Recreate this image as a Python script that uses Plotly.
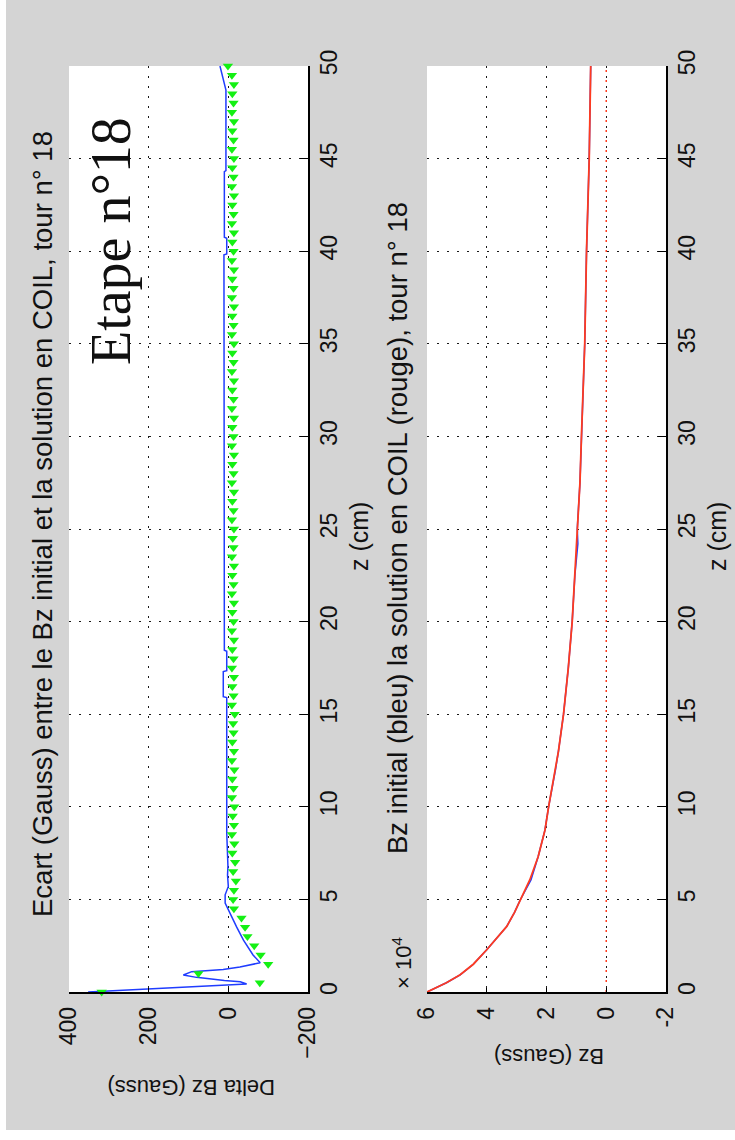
import plotly.graph_objects as go

W, H = 735, 1140

# ---------------- data ----------------
# Panel 1: Delta Bz (Gauss) vs z (cm)
delta_blue_z = [0, 0.25, 0.43, 0.55, 0.62, 0.79, 0.92, 1.1, 1.22, 1.35, 1.58, 2.0, 2.8, 3.5,
                4.25, 4.8, 5.25, 5.7, 6.3, 6.8, 8.6, 15.9, 15.95, 17.3, 17.35, 18.4, 18.45,
                21.6, 27, 39.8, 39.85, 40.7, 40.75, 44.3, 44.35, 48.7, 50]
delta_blue_v = [352, 105, -46, -30, 10, 80, 113, 92, 13, -29, -80, -62, -38, -21,
                -4, 8, 8, 0, 2, 1, 4, 4, 12.7, 12.7, 4, 4, 10,
                10, 11, 11, 4, 4, 10, 10, 6, 6, 21]

delta_green_z = [0, 0.5, 1, 1.5, 2, 2.5, 3, 3.5, 4, 4.5, 5, 5.5, 6, 6.5, 7, 7.5, 8, 8.5, 9, 9.5,
                 10, 10.5, 11, 11.5, 12, 12.5, 13, 13.5, 14, 14.5, 15, 15.5, 16, 16.5, 17, 17.5,
                 18, 18.5, 19, 19.5, 20, 20.5, 21, 21.5, 22, 22.5, 23, 23.5, 24, 24.5, 25, 25.5,
                 26, 26.5, 27, 27.5, 28, 28.5, 29, 29.5, 30, 30.5, 31, 31.5, 32, 32.5, 33, 33.5,
                 34, 34.5, 35, 35.5, 36, 36.5, 37, 37.5, 38, 38.5, 39, 39.5, 40, 40.5, 41, 41.5,
                 42, 42.5, 43, 43.5, 44, 44.5, 45, 45.5, 46, 46.5, 47, 47.5, 48, 48.5, 49, 49.5, 50]
delta_green_v = [318, -79, 75, -100, -81, -65, -48, -42, -33, -14, -12, -14, -19, -12, -17, -10, -15, -9, -14, -11,
                 -15, -9, -13, -10, -15, -9, -14, -10, -13, -12, -16, -9, -13, -10, -14, -9,
                 -13, -10, -14, -9, -13, -10, -14, -9, -13, -10, -14, -9, -13, -11, -14, -9,
                 -13, -10, -14, -9, -13, -10, -14, -9, -13, -10, -14, -9, -13, -10, -14, -9,
                 -13, -10, -14, -9, -13, -10, -14, -9, -13, -10, -14, -9, -13, -10, -14, -9,
                 -13, -10, -14, -9, -13, -10, -14, -9, -13, -10, -14, -9, -13, -10, -14, -9, 1]

# Panel 2: Bz (Gauss) vs z (cm)
bz_red_z = [0, 0.5, 0.93, 1.5, 2.28, 3.0, 3.54, 4.3, 4.97, 6.05, 7.3, 8.75, 10, 12, 13, 15,
            17.5, 20, 22.5, 25, 27.5, 30, 35, 40, 45, 50]
bz_red_v = [60000, 53500, 48900, 44500, 40000, 36000, 33300, 30700, 28800, 25600, 22800, 20500,
            19300, 17000, 16000, 14300, 12700, 11400, 10500, 9700, 8800, 8300, 7200, 6600, 5700, 5200]
bz_blue_z = [0, 0.5, 0.93, 1.5, 2.28, 3.0, 3.54, 4.3, 4.97, 6.05, 7.3, 8.75, 10, 12, 13, 15,
             17.5, 20, 22.5, 24.2, 25, 27.5, 30, 35, 40, 45, 50]
bz_blue_v = [60000, 53500, 48900, 44500, 40000, 36000, 33300, 30700, 28800, 25200, 22800, 20500,
             19300, 17000, 16000, 14300, 12700, 11400, 10500, 9500, 9700, 8800, 8300, 7200, 6600, 5700, 5200]
zero_z = [0, 50]
zero_v = [0, 0]

z_ticks = [0, 5, 10, 15, 20, 25, 30, 35, 40, 45, 50]
delta_ticks = [400, 200, 0, -200]
bz_ticks = [60000, 40000, 20000, 0, -20000]
bz_ticktext = ['6', '4', '2', '0', '-2']

# ---------------- layout helpers ----------------
def px(x):
    return x / W

def py(y):
    return 1 - y / H

FONT = "Liberation Sans, Arial, sans-serif"
GRID = dict(showgrid=True, gridcolor="#1a1a1a", gridwidth=1.3, griddash="2px,8px",
            zeroline=False, showline=True, linecolor="black", linewidth=1.5,
            ticks="inside", tickcolor="black", tickangle=-90, automargin=False,
            tickfont=dict(family=FONT, size=23, color="#111111"))

fig = go.Figure()

fig.add_trace(go.Scatter(x=delta_blue_v, y=delta_blue_z, mode="lines",
                         line=dict(color="#1f3cff", width=1.5), xaxis="x", yaxis="y",
                         showlegend=False))
fig.add_trace(go.Scatter(x=delta_green_v, y=delta_green_z, mode="markers",
                         marker=dict(symbol="triangle-down", size=9, color="#14f014"),
                         xaxis="x", yaxis="y", showlegend=False, cliponaxis=False))

fig.add_trace(go.Scatter(x=zero_v, y=zero_z, mode="lines",
                         line=dict(color="#ff3b1f", width=1.5, dash="2px,8px"),
                         xaxis="x2", yaxis="y2", showlegend=False))
fig.add_trace(go.Scatter(x=bz_blue_v, y=bz_blue_z, mode="lines",
                         line=dict(color="#1f3cff", width=1.5), xaxis="x2", yaxis="y2",
                         showlegend=False))
fig.add_trace(go.Scatter(x=bz_red_v, y=bz_red_z, mode="lines",
                         line=dict(color="#ff3b1f", width=1.8), xaxis="x2", yaxis="y2",
                         showlegend=False))

ydom = [py(992), py(66)]

fig.update_layout(
    template="none",
    width=W, height=H,
    margin=dict(l=0, r=0, t=0, b=0, pad=0, autoexpand=False),
    paper_bgcolor="#d4d4d4",
    plot_bgcolor="white",
    showlegend=False,
    xaxis=dict(domain=[px(69), px(308)], range=[400, -200], tickvals=delta_ticks,
               ticklen=4, anchor="y", ticklabelstandoff=4, **GRID),
    yaxis=dict(domain=ydom, range=[0, 50], tickvals=z_ticks, side="right",
               ticklen=8, anchor="x", ticklabelstandoff=0, **GRID),
    xaxis2=dict(domain=[px(427), px(666)], range=[60000, -20000], tickvals=bz_ticks,
                ticktext=bz_ticktext, ticklen=4, anchor="y2", ticklabelstandoff=4, **GRID),
    yaxis2=dict(domain=ydom, range=[0, 50], tickvals=z_ticks, side="right",
                ticklen=8, anchor="x2", ticklabelstandoff=0, **GRID),
)

# white strips at the left and bottom edge of the picture
fig.add_shape(type="rect", xref="paper", yref="paper", x0=0, x1=px(6), y0=0, y1=1,
              fillcolor="white", line=dict(width=0), layer="above")
fig.add_shape(type="rect", xref="paper", yref="paper", x0=0, x1=1, y0=0, y1=py(1130),
              fillcolor="white", line=dict(width=0), layer="above")

def note(text, x, y, size, angle, family=FONT):
    fig.add_annotation(text=text, x=px(x), y=py(y), xref="paper", yref="paper",
                       showarrow=False, textangle=angle, xanchor="center", yanchor="middle",
                       font=dict(family=family, size=size, color="#111111"))

note("Ecart (Gauss) entre le Bz initial et la solution en COIL, tour n° 18", 42, 524, 27.5, -90)
note("Bz initial (bleu) la solution en COIL (rouge), tour n° 18", 397, 528, 27.5, -90)
note("z (cm)", 359, 537, 25, -90)
note("z (cm)", 717, 537, 25, -90)
note("Delta Bz (Gauss)", 191, 1088, 22, 180)
note("Bz (Gauss)", 549, 1057, 22, 180)
note("× 10<sup>4</sup>", 402, 963, 22, -90)
note("Etape n°18", 111, 241, 56, -90, family="Liberation Serif, Times New Roman, serif")

fig.write_html("out.html", config={"displayModeBar": False},
               post_script="document.body.style.margin='0';document.body.style.overflow='hidden';")
